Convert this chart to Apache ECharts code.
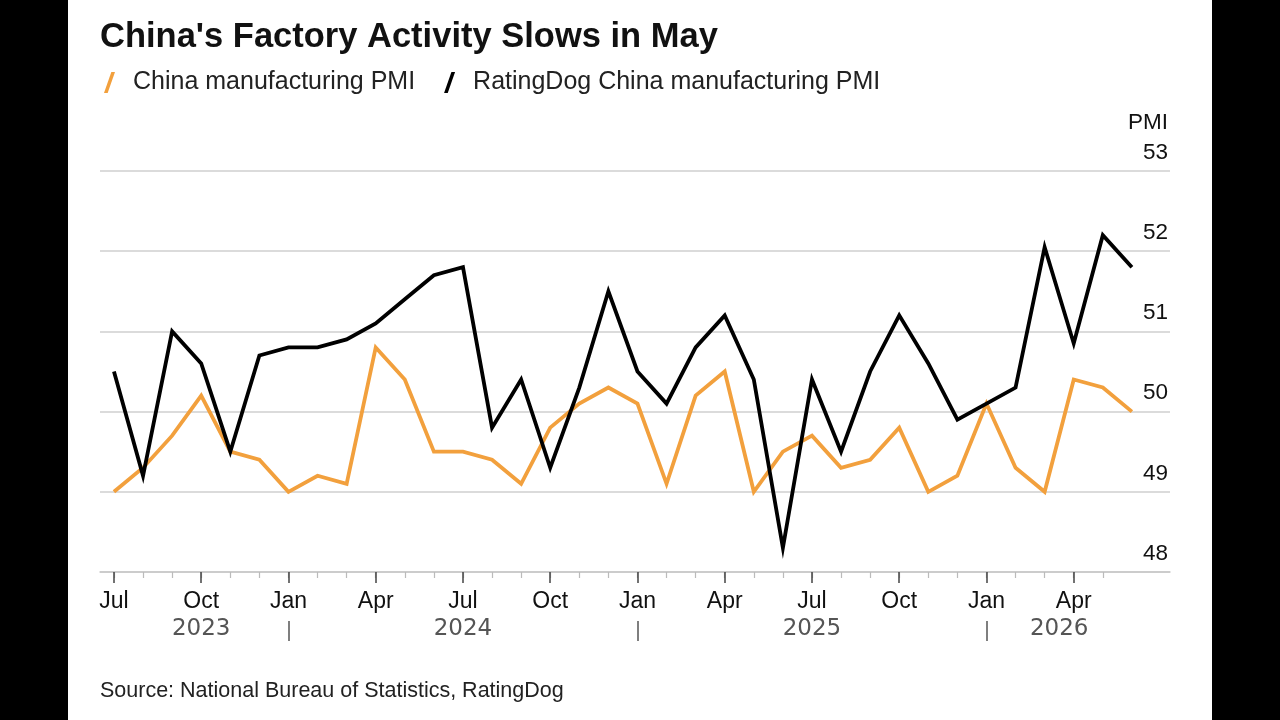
<!DOCTYPE html>
<html>
<head>
<meta charset="utf-8">
<script src="https://cdn.jsdelivr.net/npm/echarts@6/dist/echarts.min.js"></script>
<style>
  html, body { margin: 0; padding: 0; background: #000; }
  #panel { position: absolute; left: 68px; top: 0; width: 1144px; height: 720px; background: #fff; }
  #chart { position: absolute; left: 0; top: 0; width: 1280px; height: 720px; }
</style>
</head>
<body>
<div id="panel"></div>
<div id="chart"></div>
<script>
// Data months (month-end readings, Jun 2023 .. May 2026)
const months = [
  '2023-06','2023-07','2023-08','2023-09','2023-10','2023-11','2023-12',
  '2024-01','2024-02','2024-03','2024-04','2024-05','2024-06','2024-07','2024-08','2024-09','2024-10','2024-11','2024-12',
  '2025-01','2025-02','2025-03','2025-04','2025-05','2025-06','2025-07','2025-08','2025-09','2025-10','2025-11','2025-12',
  '2026-01','2026-02','2026-03','2026-04','2026-05'
];
const chinaPMI = [
  49.0, 49.3, 49.7, 50.2, 49.5, 49.4, 49.0,
  49.2, 49.1, 50.8, 50.4, 49.5, 49.5, 49.4, 49.1, 49.8, 50.1, 50.3, 50.1,
  49.1, 50.2, 50.5, 49.0, 49.5, 49.7, 49.3, 49.4, 49.8, 49.0, 49.2, 50.1,
  49.3, 49.0, 50.4, 50.3, 50.0
];
const ratingDogPMI = [
  50.5, 49.2, 51.0, 50.6, 49.5, 50.7, 50.8,
  50.8, 50.9, 51.1, 51.4, 51.7, 51.8, 49.8, 50.4, 49.3, 50.3, 51.5, 50.5,
  50.1, 50.8, 51.2, 50.4, 48.3, 50.4, 49.5, 50.5, 51.2, 50.6, 49.9, 50.1,
  50.3, 52.05, 50.85, 52.2, 51.8
];
const quarterLabels = ['Jul','Oct','Jan','Apr','Jul','Oct','Jan','Apr','Jul','Oct','Jan','Apr'];
const yearLabels = ['2023','2024','2025','2026'];
const seriesNames = ['China manufacturing PMI', 'RatingDog China manufacturing PMI'];

// tick indices: one tick per month boundary after each reading (except the last)
const monthTicks = months.slice(0, months.length - 1).map((m, i) => i);
const quarterTicks = monthTicks.filter(i => i % 3 === 0);
const yearCenters = [3, 12, 24, 32.5];
const yearSeparators = [6, 18, 30];

const FONT = '"Liberation Sans", Arial, sans-serif';
const xMin = -0.48, xMax = 36.31;

const chart = echarts.init(document.getElementById('chart'));
const slash = 'path://M7,0 L10.5,0 L3.5,20 L0,20 Z';

chart.setOption({
  backgroundColor: 'transparent',
  animation: false,
  title: {
    text: "China's Factory Activity Slows in May",
    left: 95, top: 15,
    textStyle: { fontFamily: FONT, fontWeight: 'bold', fontSize: 34.5, color: '#111' }
  },
  legend: {
    left: 99, top: 65,
    itemWidth: 11, itemHeight: 21, itemGap: 29,
    icon: slash,
    textStyle: { fontFamily: FONT, fontSize: 25, color: '#222', padding: [0, 0, 0, 13] },
    data: seriesNames
  },
  grid: { left: 100, right: 110, top: 171, bottom: 148, containLabel: false },
  xAxis: [
    { // minor ticks
      type: 'value', min: xMin, max: xMax, position: 'bottom',
      axisLine: { show: true, lineStyle: { color: '#c8c8c8', width: 1.5 } },
      axisTick: { show: true, customValues: monthTicks, length: 6, lineStyle: { color: '#bbb', width: 1.2 } },
      axisLabel: { show: false },
      splitLine: { show: false }
    },
    { // quarter ticks + labels
      type: 'value', min: xMin, max: xMax, position: 'bottom',
      axisLine: { show: false },
      axisTick: { show: true, customValues: quarterTicks, length: 11, lineStyle: { color: '#444', width: 1.5 } },
      axisLabel: {
        show: true, customValues: quarterTicks, margin: 18,
        fontFamily: FONT, fontSize: 23, color: '#111',
        formatter: v => quarterLabels[Math.round(v / 3)]
      },
      splitLine: { show: false }
    },
    { // year row
      type: 'value', min: xMin, max: xMax, position: 'bottom', offset: 49,
      axisLine: { show: false },
      axisTick: { show: true, customValues: yearSeparators, length: 20, lineStyle: { color: '#555', width: 1.5 } },
      axisLabel: {
        show: true, customValues: yearCenters, margin: -3,
        fontFamily: '"DejaVu Sans", sans-serif', fontSize: 23, color: '#555',
        formatter: v => yearLabels[yearCenters.indexOf(v)]
      },
      splitLine: { show: false }
    }
  ],
  yAxis: {
    type: 'value', position: 'right', min: 48, max: 53, interval: 1,
    axisLine: { show: false },
    axisTick: { show: false },
    axisLabel: {
      inside: true, margin: 2, verticalAlign: 'bottom', padding: [0, 0, 7, 0],
      fontFamily: FONT, fontSize: 22.5, color: '#111'
    },
    splitLine: { show: true, lineStyle: { color: '#cfcfcf', width: 1.5 } }
  },
  series: [
    {
      name: seriesNames[0], type: 'line', xAxisIndex: 0,
      data: chinaPMI.map((v, i) => [i, v]),
      showSymbol: false, color: '#F2A03D',
      lineStyle: { width: 3.8, color: '#F2A03D', join: 'miter' }
    },
    {
      name: seriesNames[1], type: 'line', xAxisIndex: 0,
      data: ratingDogPMI.map((v, i) => [i, v]),
      showSymbol: false, color: '#000',
      lineStyle: { width: 3.8, color: '#000', join: 'miter' }
    }
  ],
  graphic: [
    {
      type: 'text', right: 112, top: 111,
      style: { text: 'PMI', fontFamily: FONT, fontSize: 22.5, fill: '#111' }
    },
    {
      type: 'text', left: 100, top: 680,
      style: { text: 'Source: National Bureau of Statistics, RatingDog', fontFamily: FONT, fontSize: 21.5, fill: '#222' }
    }
  ]
});
</script>
</body>
</html>
